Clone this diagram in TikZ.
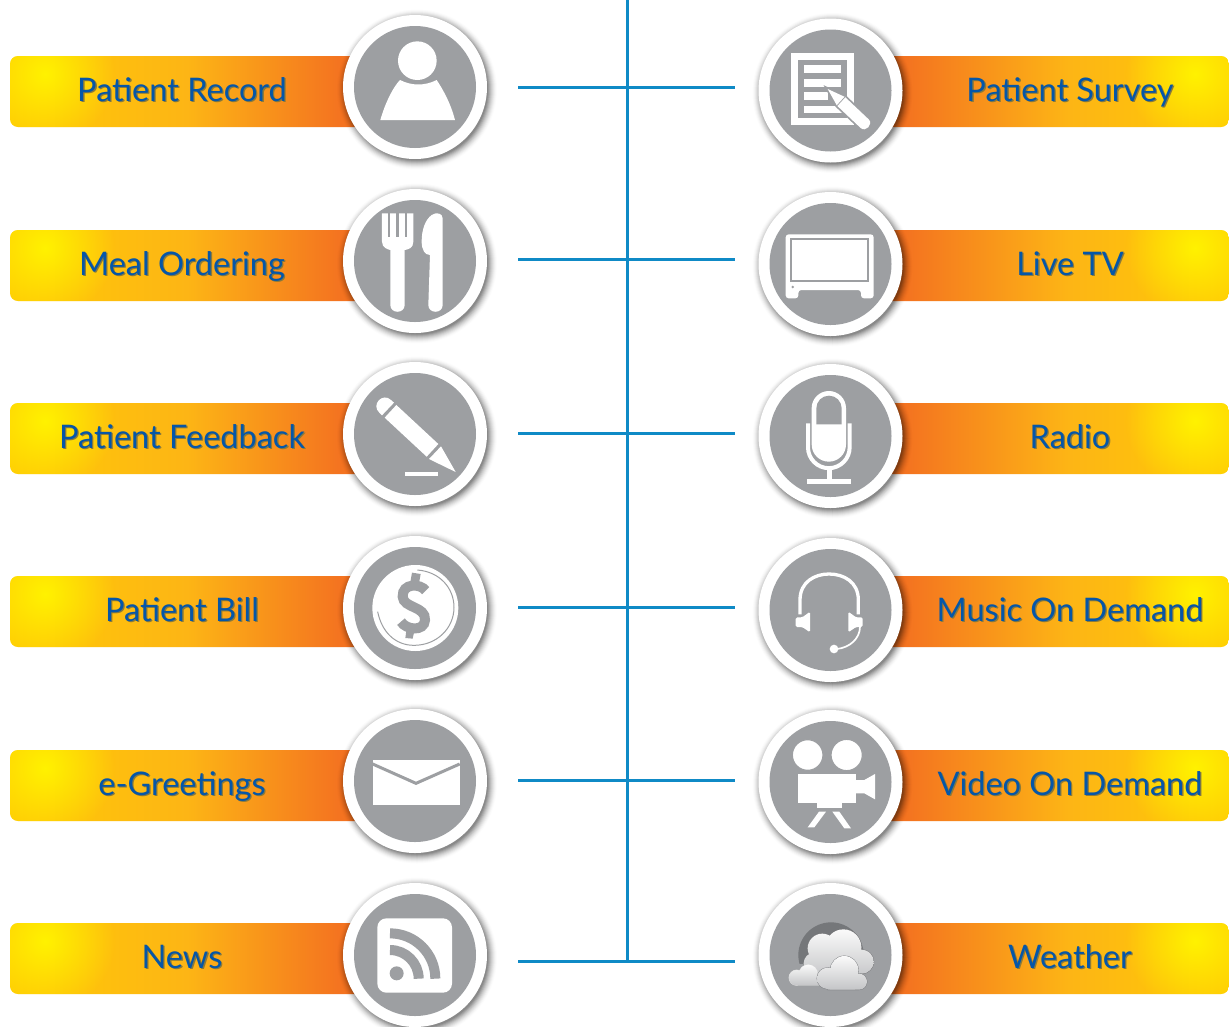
\documentclass[tikz,border=0pt]{standalone}
\usepackage{fontspec}
\setmainfont{Lato}
\usetikzlibrary{fadings,calc}
\definecolor{gbadge}{HTML}{9D9FA2}
\definecolor{gdark}{HTML}{75777A}
\definecolor{trunk}{HTML}{0F8AC6}
\definecolor{barorange}{HTML}{F47320}
\definecolor{barmid}{HTML}{FDB515}
\definecolor{baredge}{HTML}{FFCB05}
\definecolor{barhigh}{HTML}{FFF200}
\definecolor{labelblue}{HTML}{0556A8}
\definecolor{labelshade}{HTML}{8A7A3A}
\definecolor{cloudtop}{HTML}{FAFAFA}
\definecolor{cloudlow}{HTML}{C4C5C7}
\tikzfading[name=hlfade, inner color=transparent!0, outer color=transparent!100]
\pgfdeclarehorizontalshading{barleftshade}{100bp}{color(0bp)=(baredge); color(25bp)=(baredge); color(50bp)=(barmid); color(71.5bp)=(barorange); color(100bp)=(barorange)}
\pgfdeclarehorizontalshading{barrightshade}{100bp}{color(0bp)=(barorange); color(28.6bp)=(barorange); color(52bp)=(barmid); color(75bp)=(baredge); color(100bp)=(baredge)}
\tikzset{
  wire/.style={draw=trunk,line width=3pt},
  badgeouter/.style={circle,fill=white,minimum size=144pt,inner sep=0pt},
  badgeinner/.style={circle,fill=gbadge,minimum size=122pt,inner sep=0pt},
  barlabel/.style={anchor=base,inner sep=0pt,text=labelblue,font=\fontsize{32.5}{35}\selectfont},
  zoomat/.style 2 args={x=.33333pt,y=-.33333pt,xshift=#1pt,yshift=-#2pt},
  iconw/.style={fill=white},
  icong/.style={fill=gbadge},
}
\newcommand{\shadowtext}[1]{\rlap{\raisebox{-1.3pt}{\hspace{1.3pt}\textcolor{labelshade}{#1}}}#1}
\newcommand{\leftbar}[3]{%
  \shade[shading=barleftshade,rounded corners=8pt] (10,#2) rectangle (365,#2+71);
  \begin{scope}
    \clip[rounded corners=8pt] (10,#2) rectangle (365,#2+71);
    \fill[barhigh,path fading=hlfade] (45,#2+18) circle (70);
  \end{scope}
  \node[barlabel] (#1) at (182,#2+45) {\shadowtext{#3}};}
\newcommand{\rightbar}[3]{%
  \shade[shading=barrightshade,rounded corners=8pt] (880,#2) rectangle (1229,#2+71);
  \begin{scope}
    \clip[rounded corners=8pt] (880,#2) rectangle (1229,#2+71);
    \fill[barhigh,path fading=hlfade] (1195,#2+18) circle (70);
  \end{scope}
  \node[barlabel] (#1) at (1070,#2+45) {\shadowtext{#3}};}
\newcommand{\badge}[3]{%
  \foreach \rr/\op in {80/.01,79/.02,78/.03,77/.04,76/.05,75/.06,74/.08,73/.09,72/.10,71/.10}{\fill[black,opacity=\op] (#2+2,#3+2.5) circle (\rr);}
  \node[badgeouter] (#1) at (#2,#3) {};
  \node[badgeinner] (#1i) at (#2,#3) {};}
\begin{document}
\begin{tikzpicture}[x=1pt,y=-1pt]
\path[use as bounding box,fill=white] (0,0) rectangle (1229,1026);
\clip (0,0) rectangle (1229,1026);
% label bars
\leftbar{tl1}{56}{Patient Record}
\leftbar{tl2}{230}{Meal Ordering}
\leftbar{tl3}{403}{Patient Feedback}
\leftbar{tl4}{576}{Patient Bill}
\leftbar{tl5}{750}{e-Greetings}
\leftbar{tl6}{923}{News}
\rightbar{tr1}{56}{Patient Survey}
\rightbar{tr2}{230}{Live TV}
\rightbar{tr3}{403}{Radio}
\rightbar{tr4}{576}{Music On Demand}
\rightbar{tr5}{750}{Video On Demand}
\rightbar{tr6}{923}{Weather}
% connectors
\coordinate (top) at (627,0);
\coordinate (bot) at (627,962.5);
\draw[wire] (top) -- (bot);
\coordinate (al1) at (518,87);   \coordinate (ar1) at (735,87);
\coordinate (al2) at (518,259);  \coordinate (ar2) at (735,259);
\coordinate (al3) at (518,433);  \coordinate (ar3) at (735,433);
\coordinate (al4) at (518,607);  \coordinate (ar4) at (735,607);
\coordinate (al5) at (518,780);  \coordinate (ar5) at (735,780);
\coordinate (al6) at (518,961);  \coordinate (ar6) at (735,961);
\foreach \i in {1,...,6}{\draw[wire] (al\i) -- (ar\i);}
% badges
\badge{bl1}{415}{87}
\badge{bl2}{415}{261}
\badge{bl3}{415}{434}
\badge{bl4}{415}{608}
\badge{bl5}{415}{781}
\badge{bl6}{415}{955}
\badge{br1}{830.5}{90.5}
\badge{br2}{830.5}{264}
\badge{br3}{830.5}{436}
\badge{br4}{830.5}{610}
\badge{br5}{830.5}{782}
\badge{br6}{830.5}{955}
% --- person and cutlery
\begin{scope}[zoomat={0}{0}]
  \fill[iconw] (1252,182) circle (58);
  \fill[iconw] (1141,360) .. controls (1155,310) and (1180,260) .. (1200,240)
     .. controls (1235,258) and (1275,258) .. (1310,240)
     .. controls (1330,270) and (1352,310) .. (1365,360) -- cycle;
  \fill[iconw] (1146,640) -- (1146,725) .. controls (1146,745) and (1165,748) .. (1171,750)
     -- (1171,915) .. controls (1171,942) and (1214,942) .. (1214,915) -- (1214,750)
     .. controls (1225,748) and (1240,745) .. (1240,725) -- (1240,640) -- cycle;
  \fill[icong] (1164,636) rectangle (1171,712);
  \fill[icong] (1189,636) rectangle (1196,712);
  \fill[icong] (1214,636) rectangle (1221,712);
  \fill[iconw] (1328,655) .. controls (1328,640) and (1310,635) .. (1295,645)
     .. controls (1275,660) and (1265,690) .. (1265,725)
     .. controls (1265,750) and (1275,765) .. (1290,765)
     -- (1285,915) .. controls (1285,942) and (1328,942) .. (1328,915) -- cycle;
\end{scope}
% --- pencil and coin
\begin{scope}[zoomat={330}{350}]
  \fill[iconw] (377,366) -- (297,327) -- (333,289) -- cycle;
  \fill[iconw] (290,320) -- (325,282) -- (199,165) -- (164,203) -- cycle;
  \fill[iconw] (156,196) -- (148,188) .. controls (122,164) and (158,126) .. (183,150) -- (192,158) -- cycle;
  \fill[iconw] (224,367) rectangle (325,377);
  \fill[iconw] (256,774) circle (129);
  \draw[gbadge,line width=1pt] (262,660) .. controls (330,665) and (372,715) .. (372,772)
     .. controls (372,835) and (320,886) .. (252,886)
     .. controls (195,886) and (155,845) .. (143,785);
  \draw[gbadge,line width=10pt] (287,722) .. controls (272,700) and (216,698) .. (218,740)
     .. controls (220,775) and (288,768) .. (285,810)
     .. controls (283,846) and (228,840) .. (213,815);
  \fill[icong] (246,668) -- (272,672) -- (266,705) -- (240,702) -- cycle;
  \fill[icong] (230,835) -- (254,838) -- (248,866) -- (226,864) -- cycle;
\end{scope}
% --- envelope and feed
\begin{scope}[zoomat={330}{700}]
  \fill[iconw] (128,180) rectangle (389,315);
  \draw[gbadge,line width=3pt] (128,192) -- (258,250) -- (389,192);
  \fill[iconw,rounded corners=9pt] (142,655) rectangle (366,878);
  \fill[icong] (200,820) circle (21);
  \draw[gbadge,line width=10pt] ([shift={(180,836)}]-90:86) arc (-90:0:86);
  \draw[gbadge,line width=10pt] ([shift={(180,836)}]-90:136) arc (-90:0:136);
\end{scope}
% --- survey and screen
\begin{scope}[zoomat={745}{5}]
  \fill[iconw] (138,145) rectangle (328,360);
  \fill[icong] (160,165) rectangle (305,340);
  \fill[iconw] (178,180) rectangle (288,203);
  \fill[iconw] (178,222) rectangle (288,245);
  \fill[iconw] (178,262) rectangle (250,285);
  \fill[iconw] (178,303) rectangle (295,325);
  \path[fill=white,draw=gbadge,line width=3.5pt] (248,252) -- (276,302) -- (347,369)
     .. controls (362,383) and (386,357) .. (371,343) -- (300,276) -- cycle;
  \fill[iconw] (248,252) -- (276,302) -- (347,369)
     .. controls (362,383) and (386,357) .. (371,343) -- (300,276) -- cycle;
  \draw[gbadge,line width=.7pt] (276,302) -- (300,276);
  \fill[iconw,rounded corners=3pt] (122,688) -- (386,688) -- (386,880) -- (348,880)
     -- (348,855) -- (160,855) -- (160,880) -- (122,880) -- cycle;
  \draw[gbadge,line width=1.7pt] (139,702) rectangle (370,828);
  \fill[icong] (143,846) circle (4);
\end{scope}
% --- microphone and headset
\begin{scope}[zoomat={745}{355}]
  \draw[white,line width=4pt] (189,205) -- (189,277) arc (180:0:62.5) -- (314,205);
  \fill[iconw] (200,159.5) arc (180:360:51.5) -- (303,268.5) arc (0:180:51.5) -- cycle;
  \fill[icong] (214,208) -- (214,160) arc (180:360:38) -- (290,208) -- cycle;
  \fill[iconw] (245,335) rectangle (262,375);
  \fill[iconw] (186,372) rectangle (318,387);
  \draw[white,line width=3.3pt] (165,778) -- (165,735) .. controls (165,680) and (210,657) .. (252,657)
     .. controls (295,657) and (340,680) .. (340,735) -- (340,778);
  \fill[iconw,rounded corners=1.5pt] (195,770) -- (195,832) -- (172,816) -- (152,816) -- (152,787) -- (172,787) -- cycle;
  \fill[iconw,rounded corners=1.5pt] (310,770) -- (310,832) -- (333,816) -- (353,816) -- (353,787) -- (333,787) -- cycle;
  \draw[white,line width=1.7pt] (345,815) .. controls (345,850) and (315,878) .. (275,882);
  \fill[iconw] (267,882) circle (13);
\end{scope}
% --- camera and clouds
\begin{scope}[zoomat={745}{700}]
  \fill[iconw] (158,222) rectangle (333,310);
  \path[fill=white,draw=gbadge,line width=1.2pt] (188,165) circle (46);
  \path[fill=white,draw=gbadge,line width=1.2pt] (305,165) circle (47);
  \fill[iconw] (333,240) -- (358,240) -- (390,222) -- (390,298) -- (358,280) -- (333,280) -- cycle;
  \fill[iconw] (215,310) rectangle (290,325);
  \fill[iconw] (222,335) -- (243,335) -- (208,382) -- (188,382) -- cycle;
  \fill[iconw] (262,335) -- (283,335) -- (318,385) -- (298,385) -- cycle;
  \begin{scope}
    \clip (150,650) rectangle (380,790);
    \fill[gdark] (258,765) circle (98);
  \end{scope}
  % back cloud
  \path[draw=gbadge!70!black,line width=.8pt,fill=white] (232,745) circle (44) (295,742) circle (54)
     (350,785) circle (36) (208,790) circle (32) (205,835) rectangle (345,760);
  \shade[top color=cloudtop,bottom color=cloudlow] (232,745) circle (44) (295,742) circle (54)
     (350,785) circle (36) (208,790) circle (32) (205,835) rectangle (345,760);
  % small left cloud
  \path[draw=white!85!black,line width=.8pt,fill=white] (155,833) circle (23) (190,822) circle (28) (155,855) rectangle (235,830);
  \shade[top color=cloudtop,bottom color=cloudlow] (155,833) circle (23) (190,822) circle (28) (155,855) rectangle (235,830);
  % front cloud
  \path[draw=gdark,line width=.8pt,fill=white] (248,835) circle (32) (298,810) circle (42)
     (342,845) circle (24) (248,869) rectangle (342,840);
  \shade[top color=cloudtop,bottom color=cloudlow] (248,835) circle (32) (298,810) circle (42)
     (342,845) circle (24) (248,869) rectangle (342,840);
\end{scope}
\end{tikzpicture}
\end{document}
